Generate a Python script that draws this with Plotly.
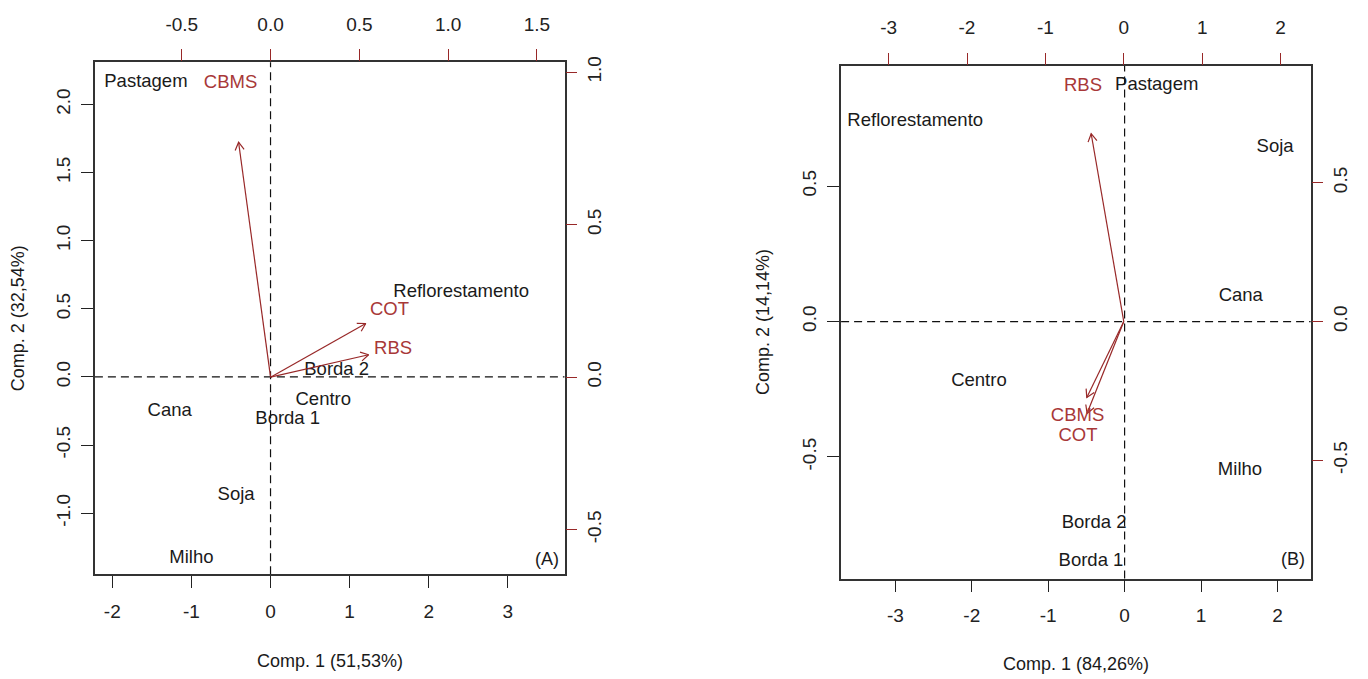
import math
import plotly.graph_objects as go

# ---------------- data ----------------
# Panel A (scores: Comp.1 x Comp.2)
a_sites = ["Pastagem", "Reflorestamento", "Borda 2", "Centro", "Cana", "Borda 1", "Soja", "Milho"]
a_pc1 = [-1.575, 2.41, 0.836, 0.667, -1.275, 0.217, -0.435, -1.0]
a_pc2 = [2.162, 0.62, 0.049, -0.17, -0.255, -0.31, -0.87, -1.33]
# Panel A loadings
a_vars = ["CBMS", "COT", "RBS"]
a_load1 = [-0.225, 0.67, 0.69]
a_load2 = [0.963, 0.22, 0.092]

# Panel B
b_sites = ["Pastagem", "Reflorestamento", "Soja", "Cana", "Centro", "Milho", "Borda 2", "Borda 1"]
b_pc1 = [0.42, -2.74, 1.97, 1.52, -1.906, 1.51, -0.40, -0.44]
b_pc2 = [0.872, 0.738, 0.643, 0.091, -0.22, -0.549, -0.744, -0.884]
b_vars = ["RBS", "CBMS", "COT"]
b_load1 = [-0.52, -0.59, -0.585]
b_load2 = [0.846, -0.342, -0.413]

# axis ranges
a_xrange, a_yrange = [-2.22, 3.716], [-1.448, 2.31]
a_x2range, a_y2range = [-0.989, 1.655], [-0.646, 1.0325]
b_xrange, b_yrange = [-3.71, 2.434], [-0.949, 0.945]
b_x2range, b_y2range = [-3.606, 2.383], [-0.926, 0.9225]

# tick labels
a_xticks = [-2, -1, 0, 1, 2, 3]
a_yticks = [-1.0, -0.5, 0.0, 0.5, 1.0, 1.5, 2.0]
a_x2ticks = [-0.5, 0.0, 0.5, 1.0, 1.5]
a_y2ticks = [-0.5, 0.0, 0.5, 1.0]
b_xticks = [-3, -2, -1, 0, 1, 2]
b_yticks = [-0.5, 0.0, 0.5]
b_x2ticks = [-3, -2, -1, 0, 1, 2]
b_y2ticks = [-0.5, 0.0, 0.5]

a_xtitle, a_ytitle = "Comp. 1 (51,53%)", "Comp. 2 (32,54%)"
b_xtitle, b_ytitle = "Comp. 1 (84,26%)", "Comp. 2 (14,14%)"

# ---------------- layout constants ----------------
# the page body has an 8px margin: the figure is drawn 8px right/down
OX, OY = 8, 8
W, H = 1368 - OX, 679 - OY
FONT = "Liberation Sans, Arial, Helvetica, sans-serif"
TXT = "#1a1a1a"
RED = "#982828"
REDTXT = "#A83838"
FS = 18.5

BOX_A = (94.9, 56.7, 564.5, 573.3)   # window pixels (l, t, r, b)
BOX_B = (841.1, 60.0, 1310.6, 577.7)


def px(x):
    return (x - OX) / W


def py(y):
    return 1 - (y - OY) / H


def xdom(box):
    return [px(box[0]), px(box[2])]


def ydom(box):
    return [py(box[3]), py(box[1])]


def lab(v, ints=False):
    return f"{v:.0f}" if ints else f"{v:.1f}"


def arrows(lx, ly, box, xr, yr, head=9.0, ang=30.0):
    sx = (box[2] - box[0]) / (xr[1] - xr[0])
    sy = (box[3] - box[1]) / (yr[1] - yr[0])
    xs, ys = [], []
    for a, b in zip(lx, ly):
        tx, ty = 0.8 * a, 0.8 * b
        th = math.atan2(ty * sy, tx * sx)
        xs += [0, tx, None]
        ys += [0, ty, None]
        p1 = th + math.pi + math.radians(ang)
        p2 = th + math.pi - math.radians(ang)
        xs += [tx + head * math.cos(p1) / sx, tx, tx + head * math.cos(p2) / sx, None]
        ys += [ty + head * math.sin(p1) / sy, ty, ty + head * math.sin(p2) / sy, None]
    return xs, ys


fig = go.Figure()


def add_panel(sites, p1, p2, vars_, l1, l2, box, x2r, y2r, xa, ya, xa2, ya2):
    ax, ay = arrows(l1, l2, box, x2r, y2r)
    fig.add_trace(go.Scatter(x=ax, y=ay, mode="lines", line=dict(color=RED, width=1.2),
                             xaxis=xa2, yaxis=ya2, hoverinfo="skip", showlegend=False))
    fig.add_trace(go.Scatter(x=p1, y=p2, mode="text", text=sites, textposition="middle center",
                             textfont=dict(family=FONT, size=FS, color=TXT),
                             xaxis=xa, yaxis=ya, hoverinfo="skip", showlegend=False, cliponaxis=False))
    fig.add_trace(go.Scatter(x=l1, y=l2, mode="text", text=vars_, textposition="middle center",
                             textfont=dict(family=FONT, size=FS, color=REDTXT),
                             xaxis=xa2, yaxis=ya2, hoverinfo="skip", showlegend=False, cliponaxis=False))


add_panel(a_sites, a_pc1, a_pc2, a_vars, a_load1, a_load2, BOX_A,
          a_x2range, a_y2range, "x", "y", "x2", "y2")
add_panel(b_sites, b_pc1, b_pc2, b_vars, b_load1, b_load2, BOX_B,
          b_x2range, b_y2range, "x3", "y3", "x4", "y4")

tickfont = dict(family=FONT, size=19, color="#222222")


def main_x(box, rng, ticks, anchor):
    return dict(domain=xdom(box), range=rng, anchor=anchor, tickvals=ticks,
                ticktext=[lab(t, True) for t in ticks], ticks="outside", ticklen=12,
                tickwidth=1, tickcolor="#222222", showline=True, mirror=True,
                linecolor="#333333", linewidth=1.5, showgrid=False, zeroline=False,
                tickfont=tickfont, ticklabelstandoff=7, fixedrange=True)


def main_y(box, rng, ticks, anchor):
    return dict(domain=ydom(box), range=rng, anchor=anchor, tickvals=ticks,
                ticktext=[lab(t) for t in ticks], ticks="outside", ticklen=12,
                tickwidth=1, tickcolor="#222222", showline=True, mirror=True,
                linecolor="#333333", linewidth=1.5, showgrid=False, zeroline=False,
                tickfont=tickfont, tickangle=-90, ticklabelstandoff=4, fixedrange=True)


def sec_x(rng, ticks, over, anchor, ints):
    return dict(range=rng, overlaying=over, anchor=anchor, side="top", tickvals=ticks,
                ticktext=[lab(t, ints) for t in ticks], ticks="outside", ticklen=12,
                tickwidth=1, tickcolor=RED, showline=False, showgrid=False, zeroline=False,
                tickfont=tickfont, ticklabelstandoff=11, fixedrange=True)


def sec_y(rng, ticks, over, anchor):
    return dict(range=rng, overlaying=over, anchor=anchor, side="right", tickvals=ticks,
                ticktext=[lab(t) for t in ticks], ticks="outside", ticklen=11,
                tickwidth=1, tickcolor=RED, showline=False, showgrid=False, zeroline=False,
                tickfont=tickfont, tickangle=-90, ticklabelstandoff=2, fixedrange=True)


shapes = []
for xa, ya in (("x", "y"), ("x3", "y3")):
    shapes.append(dict(type="line", xref=xa, x0=0, x1=0, yref=ya + " domain", y0=0, y1=1,
                       line=dict(color="#111111", width=1.2, dash="8px,5px"), layer="below"))
    shapes.append(dict(type="line", yref=ya, y0=0, y1=0, xref=xa + " domain", x0=0, x1=1,
                       line=dict(color="#111111", width=1.2, dash="8px,5px"), layer="below"))


def ann(text, x, y, angle=0, xanchor="center", yanchor="middle"):
    return dict(text=text, x=px(x), y=py(y), xref="paper", yref="paper",
                showarrow=False, xanchor=xanchor, yanchor=yanchor, textangle=angle,
                font=dict(family=FONT, size=18, color=TXT))


annotations = [
    ann(a_xtitle, (BOX_A[0] + BOX_A[2]) / 2, 661),
    ann(a_ytitle, 18, (BOX_A[1] + BOX_A[3]) / 2, angle=-90),
    ann(b_xtitle, (BOX_B[0] + BOX_B[2]) / 2, 664),
    ann(b_ytitle, 763, (BOX_B[1] + BOX_B[3]) / 2, angle=-90),
    ann("(A)", BOX_A[2] - 4, 558, xanchor="right"),
    ann("(B)", BOX_B[2] - 4, 558, xanchor="right"),
]

fig.update_layout(
    width=W, height=H, autosize=False,
    margin=dict(l=0, r=0, t=0, b=0, pad=0),
    paper_bgcolor="white", plot_bgcolor="white",
    showlegend=False,
    xaxis=main_x(BOX_A, a_xrange, a_xticks, "y"),
    yaxis=main_y(BOX_A, a_yrange, a_yticks, "x"),
    xaxis2=sec_x(a_x2range, a_x2ticks, "x", "y", False),
    yaxis2=sec_y(a_y2range, a_y2ticks, "y", "x"),
    xaxis3=main_x(BOX_B, b_xrange, b_xticks, "y3"),
    yaxis3=main_y(BOX_B, b_yrange, b_yticks, "x3"),
    xaxis4=sec_x(b_x2range, b_x2ticks, "x3", "y3", True),
    yaxis4=sec_y(b_y2range, b_y2ticks, "y3", "x3"),
    shapes=shapes,
    annotations=annotations,
)

fig.write_html("out.html")
